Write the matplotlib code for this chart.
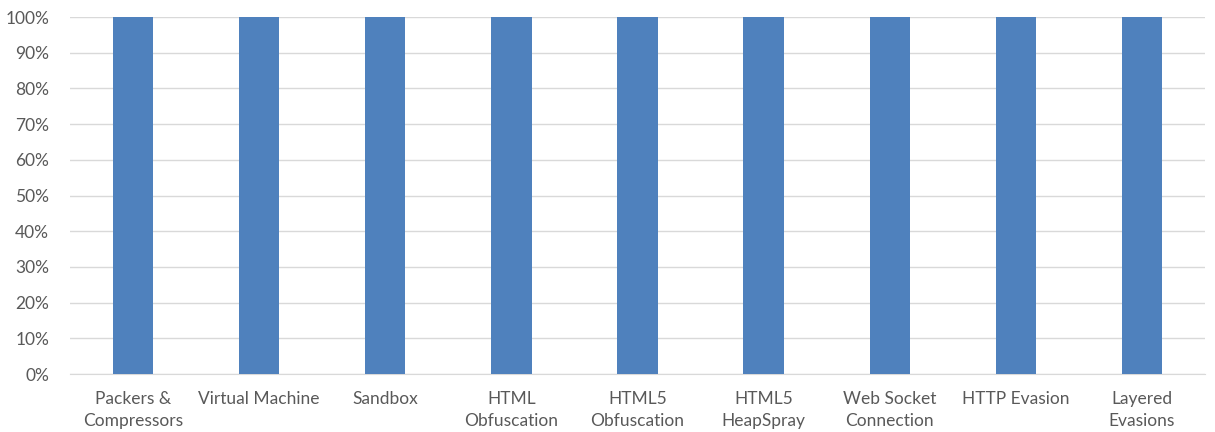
import matplotlib
matplotlib.use("Agg")
import matplotlib.pyplot as plt
from matplotlib.ticker import PercentFormatter

categories = [
    "Packers &\nCompressors", "Virtual Machine", "Sandbox", "HTML\nObfuscation",
    "HTML5\nObfuscation", "HTML5\nHeapSpray", "Web Socket\nConnection",
    "HTTP Evasion", "Layered\nEvasions",
]
values = [100, 100, 100, 100, 100, 100, 100, 100, 100]

plt.rcParams["font.family"] = ["Lato", "DejaVu Sans"]
text_color = "#595959"

fig = plt.figure(figsize=(12.15, 4.32), dpi=100)
ax = fig.add_axes([0.0576, 0.134, 0.9342, 0.8266])

x = range(len(categories))
ax.bar(x, values, width=0.32, color="#4F81BD", zorder=3)

ax.set_xlim(-0.5, len(categories) - 0.5)
ax.set_ylim(0, 100)
ax.set_yticks(range(0, 101, 10))
ax.yaxis.set_major_formatter(PercentFormatter(decimals=0))
ax.set_xticks(list(x))
ax.set_xticklabels(categories, linespacing=1.5)

ax.grid(axis="y", color="#D9D9D9", linewidth=1, zorder=0)
for side in ["top", "right", "left"]:
    ax.spines[side].set_visible(False)
ax.spines["bottom"].set_color("#D9D9D9")
ax.tick_params(length=0, colors=text_color, labelsize=12.5)
ax.tick_params(axis="y", pad=15)
ax.tick_params(axis="x", pad=12)

fig.savefig("out.png", dpi=100)
